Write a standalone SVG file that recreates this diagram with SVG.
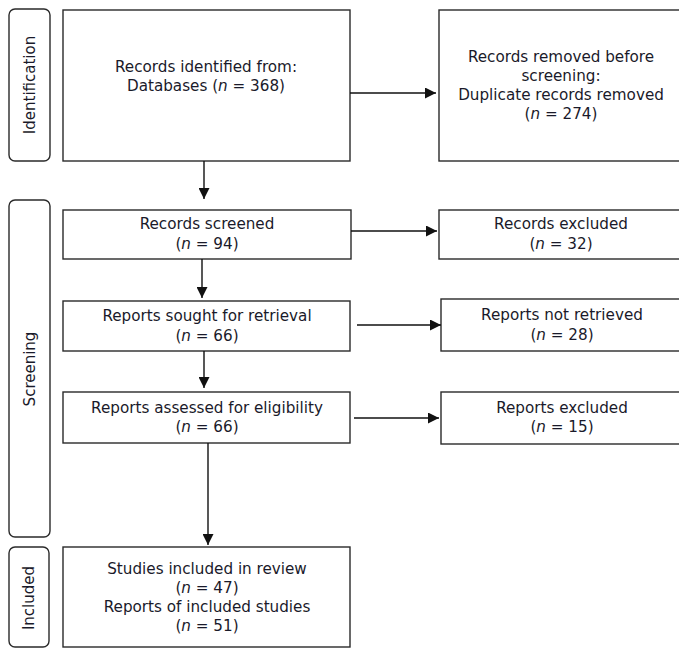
<svg xmlns="http://www.w3.org/2000/svg" width="679" height="648" viewBox="0 0 679 648">
<defs>
<style>
.box{fill:#fff;stroke:#2a2a2a;stroke-width:1.4}
.lab{fill:#fff;stroke:#2a2a2a;stroke-width:1.4}
.t{font-family:"DejaVu Sans",Verdana,sans-serif;font-size:15.2px;fill:#1a1a2a;text-anchor:middle}
.v{font-family:"DejaVu Sans",Verdana,sans-serif;font-size:15px;fill:#1a1a2a;text-anchor:middle}
.i{font-style:italic}
.c{fill:none;stroke:#111;stroke-width:1.4}
</style>
<marker id="ah" markerUnits="userSpaceOnUse" markerWidth="12" markerHeight="11" refX="11" refY="5.5" orient="auto">
<path d="M0,0 L11,5.5 L0,11 z" fill="#111"/>
</marker>
</defs>
<rect width="679" height="648" fill="#fff"/>

<g id="label-identification">
<rect class="lab" x="9" y="9" width="41" height="152" rx="6"/>
<text class="v" transform="translate(35,85) rotate(-90)">Identification</text>
</g>
<g id="label-screening">
<rect class="lab" x="9" y="200" width="41" height="337" rx="6"/>
<text class="v" transform="translate(35,369) rotate(-90)">Screening</text>
</g>
<g id="label-included">
<rect class="lab" x="9" y="547" width="40" height="100" rx="6"/>
<text class="v" transform="translate(34,598) rotate(-90)">Included</text>
</g>

<g id="identified">
<rect class="box" x="63" y="10" width="287" height="151"/>
<text class="t" x="206" y="72">Records identified from:</text>
<text class="t" x="206" y="91">Databases (<tspan class="i">n</tspan> = 368)</text>
</g>
<g id="removed">
<rect class="box" x="439" y="10" width="246" height="151"/>
<text class="t" x="561" y="62">Records removed before</text>
<text class="t" x="561" y="81">screening:</text>
<text class="t" x="561" y="100">Duplicate records removed</text>
<text class="t" x="561" y="119">(<tspan class="i">n</tspan> = 274)</text>
</g>
<g id="screened">
<rect class="box" x="63" y="210" width="288" height="49"/>
<text class="t" x="207" y="229">Records screened</text>
<text class="t" x="207" y="249">(<tspan class="i">n</tspan> = 94)</text>
</g>
<g id="excluded1">
<rect class="box" x="439" y="210" width="246" height="49"/>
<text class="t" x="561" y="229">Records excluded</text>
<text class="t" x="561" y="249">(<tspan class="i">n</tspan> = 32)</text>
</g>
<g id="sought">
<rect class="box" x="63" y="301" width="287" height="50"/>
<text class="t" x="207" y="321">Reports sought for retrieval</text>
<text class="t" x="207" y="341">(<tspan class="i">n</tspan> = 66)</text>
</g>
<g id="notretrieved">
<rect class="box" x="441" y="299" width="244" height="52"/>
<text class="t" x="562" y="320">Reports not retrieved</text>
<text class="t" x="562" y="340">(<tspan class="i">n</tspan> = 28)</text>
</g>
<g id="assessed">
<rect class="box" x="63" y="392" width="287" height="51"/>
<text class="t" x="207" y="413">Reports assessed for eligibility</text>
<text class="t" x="207" y="432">(<tspan class="i">n</tspan> = 66)</text>
</g>
<g id="excluded2">
<rect class="box" x="441" y="392" width="244" height="52"/>
<text class="t" x="562" y="413">Reports excluded</text>
<text class="t" x="562" y="432">(<tspan class="i">n</tspan> = 15)</text>
</g>
<g id="included">
<rect class="box" x="63" y="547" width="287" height="100"/>
<text class="t" x="207" y="574">Studies included in review</text>
<text class="t" x="207" y="593">(<tspan class="i">n</tspan> = 47)</text>
<text class="t" x="207" y="612">Reports of included studies</text>
<text class="t" x="207" y="631">(<tspan class="i">n</tspan> = 51)</text>
</g>

<g id="connectors">
<line class="c" x1="350" y1="93" x2="436" y2="93" marker-end="url(#ah)"/>
<line class="c" x1="204" y1="161" x2="204" y2="199" marker-end="url(#ah)"/>
<line class="c" x1="351" y1="231" x2="437" y2="231" marker-end="url(#ah)"/>
<line class="c" x1="202" y1="259" x2="202" y2="298" marker-end="url(#ah)"/>
<line class="c" x1="357" y1="325" x2="441" y2="325" marker-end="url(#ah)"/>
<line class="c" x1="204" y1="351" x2="204" y2="388" marker-end="url(#ah)"/>
<line class="c" x1="354" y1="418" x2="439" y2="418" marker-end="url(#ah)"/>
<line class="c" x1="208" y1="443" x2="208" y2="545" marker-end="url(#ah)"/>
</g>
</svg>
